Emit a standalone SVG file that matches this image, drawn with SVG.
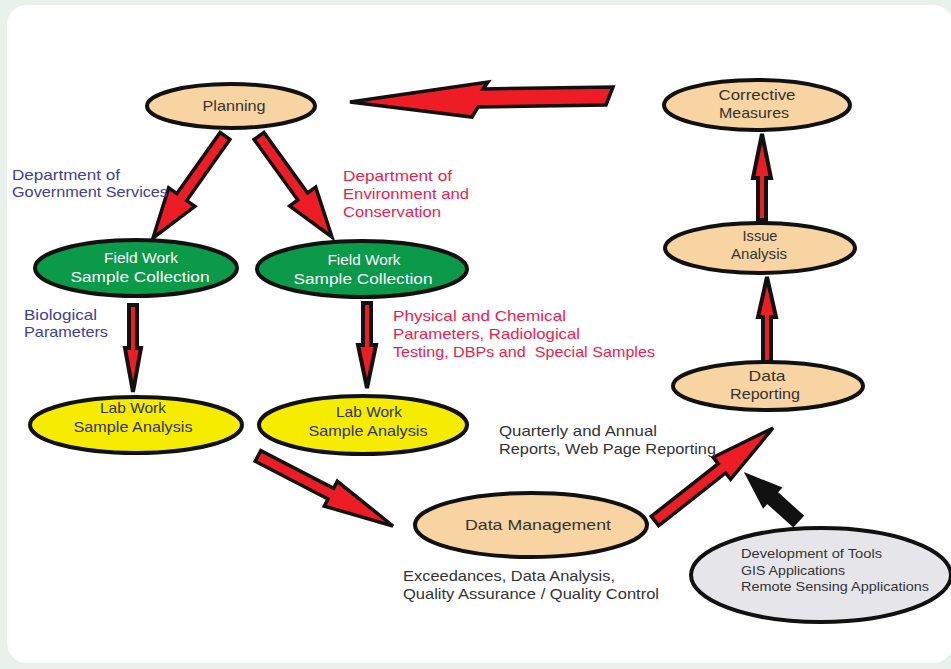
<svg xmlns="http://www.w3.org/2000/svg" width="951" height="669" viewBox="0 0 951 669">
<style>
.n{stroke:#111;stroke-width:4}
.tan{fill:#f8d4a2}
.grn{fill:#0b9a49}
.yel{fill:#f5ec00}
.gry{fill:#e6e6ea}
.ar{fill:#ee1c24;stroke:#111;stroke-width:3.5;stroke-linejoin:miter}
.av{fill:#ee1c24;stroke:#111;stroke-width:4;stroke-linejoin:miter}
.ab{fill:#111;stroke:#111;stroke-width:2}
text{font-family:"Liberation Sans",Arial,sans-serif;font-size:15px;fill:#333}
.w{fill:#fff}
.b{fill:#40409a}
.r{fill:#ec1c4c}
.m{text-anchor:middle}
.s{font-size:13.5px}
</style>
<rect width="951" height="669" fill="#e8f1ec"/>
<rect x="7" y="5" width="946" height="658" rx="20" fill="#fff"/>

<g id="connectors">
<polygon class="ar" points="350,102 488,82 483,89 613,87 606,105 478,107 472,117"/>
<polygon class="ar" points="220.1,132.5 176.9,193.6 168.7,187.9 153,238 194.9,206.3 186.7,200.6 229.9,139.5"/>
<polygon class="ar" points="254.1,139.5 297.8,200 289.7,205.9 332,237 315.7,187.1 307.6,193 263.9,132.5"/>
<polygon class="av" points="129,305 129,348 125,348 133,392 141,348 137,348 137,305"/>
<polygon class="av" points="363,303 363,345 358,345 367,388 376,345 371,345 371,303"/>
<polygon class="av" points="758,220 758,178 753,178 762,134 771,178 766,178 766,220"/>
<polygon class="av" points="763,362 763,317 758,317 767,277 776,317 771,317 771,362"/>
<polygon class="ar" points="255.2,461.3 328,499 324.3,506.1 393,526 337.3,481.3 333.6,488.4 260.8,450.7"/>
<polygon class="ar" points="658.7,525.7 725.6,473 730.6,479.3 773,428 713.2,457.3 718.2,463.6 651.3,516.3"/>
<polygon class="ab" points="802.7,515.8 776.7,492.3 780.7,487.9 746,474 763.3,507.1 767.3,502.7 793.3,526.2"/>
</g>

<g id="planning">
<ellipse class="n tan" cx="231" cy="106" rx="84" ry="22"/>
<text class="m" x="234" y="111" textLength="63" lengthAdjust="spacingAndGlyphs">Planning</text>
</g>
<g id="fieldwork1">
<ellipse class="n grn" cx="136" cy="268" rx="101" ry="28"/>
<text class="m w" x="141" y="263" textLength="74" lengthAdjust="spacingAndGlyphs">Field Work</text>
<text class="m w" x="140" y="282" textLength="139" lengthAdjust="spacingAndGlyphs">Sample Collection</text>
</g>
<g id="fieldwork2">
<ellipse class="n grn" cx="362" cy="269" rx="105" ry="28"/>
<text class="m w" x="364" y="265" textLength="73" lengthAdjust="spacingAndGlyphs">Field Work</text>
<text class="m w" x="363" y="284" textLength="139" lengthAdjust="spacingAndGlyphs">Sample Collection</text>
</g>
<g id="labwork1">
<ellipse class="n yel" cx="136" cy="425" rx="106" ry="28"/>
<text class="m" x="133" y="413" textLength="66" lengthAdjust="spacingAndGlyphs">Lab Work</text>
<text class="m" x="133" y="432" textLength="119" lengthAdjust="spacingAndGlyphs">Sample Analysis</text>
</g>
<g id="labwork2">
<ellipse class="n yel" cx="363" cy="425" rx="104" ry="29"/>
<text class="m" x="369" y="417" textLength="66" lengthAdjust="spacingAndGlyphs">Lab Work</text>
<text class="m" x="368" y="436" textLength="119" lengthAdjust="spacingAndGlyphs">Sample Analysis</text>
</g>
<g id="datamanagement">
<ellipse class="n tan" cx="531" cy="525" rx="116" ry="32"/>
<text class="m" x="538" y="530" textLength="146" lengthAdjust="spacingAndGlyphs">Data Management</text>
</g>
<g id="corrective">
<ellipse class="n tan" cx="757" cy="105" rx="93" ry="25"/>
<text class="m" x="757" y="100" textLength="77" lengthAdjust="spacingAndGlyphs">Corrective</text>
<text class="m" x="754" y="118" textLength="70" lengthAdjust="spacingAndGlyphs">Measures</text>
</g>
<g id="issue">
<ellipse class="n tan" cx="760" cy="248" rx="95" ry="25"/>
<text class="m" x="760" y="241" textLength="35" lengthAdjust="spacingAndGlyphs">Issue</text>
<text class="m" x="759" y="259" textLength="56" lengthAdjust="spacingAndGlyphs">Analysis</text>
</g>
<g id="reporting">
<ellipse class="n tan" cx="768" cy="386" rx="95" ry="24"/>
<text class="m" x="767" y="381" textLength="37" lengthAdjust="spacingAndGlyphs">Data</text>
<text class="m" x="765" y="399" textLength="70" lengthAdjust="spacingAndGlyphs">Reporting</text>
</g>
<g id="tools">
<ellipse class="n gry" cx="821" cy="575" rx="130" ry="47"/>
<text class="s" x="741" y="558" textLength="141" lengthAdjust="spacingAndGlyphs">Development of Tools</text>
<text class="s" x="741" y="575" textLength="104" lengthAdjust="spacingAndGlyphs">GIS Applications</text>
<text class="s" x="741" y="591" textLength="188" lengthAdjust="spacingAndGlyphs">Remote Sensing Applications</text>
</g>

<g id="labels">
<text class="b" x="12" y="180" textLength="108" lengthAdjust="spacingAndGlyphs">Department of</text>
<text class="b" x="12" y="197" textLength="156" lengthAdjust="spacingAndGlyphs">Government Services</text>
<text class="r" x="343" y="181" textLength="109" lengthAdjust="spacingAndGlyphs">Department of</text>
<text class="r" x="343" y="199" textLength="126" lengthAdjust="spacingAndGlyphs">Environment and</text>
<text class="r" x="343" y="217" textLength="98" lengthAdjust="spacingAndGlyphs">Conservation</text>
<text class="b" x="24" y="320" textLength="73" lengthAdjust="spacingAndGlyphs">Biological</text>
<text class="b" x="24" y="337" textLength="84" lengthAdjust="spacingAndGlyphs">Parameters</text>
<text class="r" x="393" y="321" textLength="173" lengthAdjust="spacingAndGlyphs">Physical and Chemical</text>
<text class="r" x="393" y="339" textLength="187" lengthAdjust="spacingAndGlyphs">Parameters, Radiological</text>
<text class="r" x="393" y="357" textLength="262" lengthAdjust="spacingAndGlyphs" xml:space="preserve">Testing, DBPs and  Special Samples</text>
<text x="499" y="436" textLength="158" lengthAdjust="spacingAndGlyphs">Quarterly and Annual</text>
<text x="499" y="454" textLength="217" lengthAdjust="spacingAndGlyphs">Reports, Web Page Reporting</text>
<text x="403" y="581" textLength="212" lengthAdjust="spacingAndGlyphs">Exceedances, Data Analysis,</text>
<text x="403" y="599" textLength="256" lengthAdjust="spacingAndGlyphs">Quality Assurance / Quality Control</text>
</g>
</svg>
